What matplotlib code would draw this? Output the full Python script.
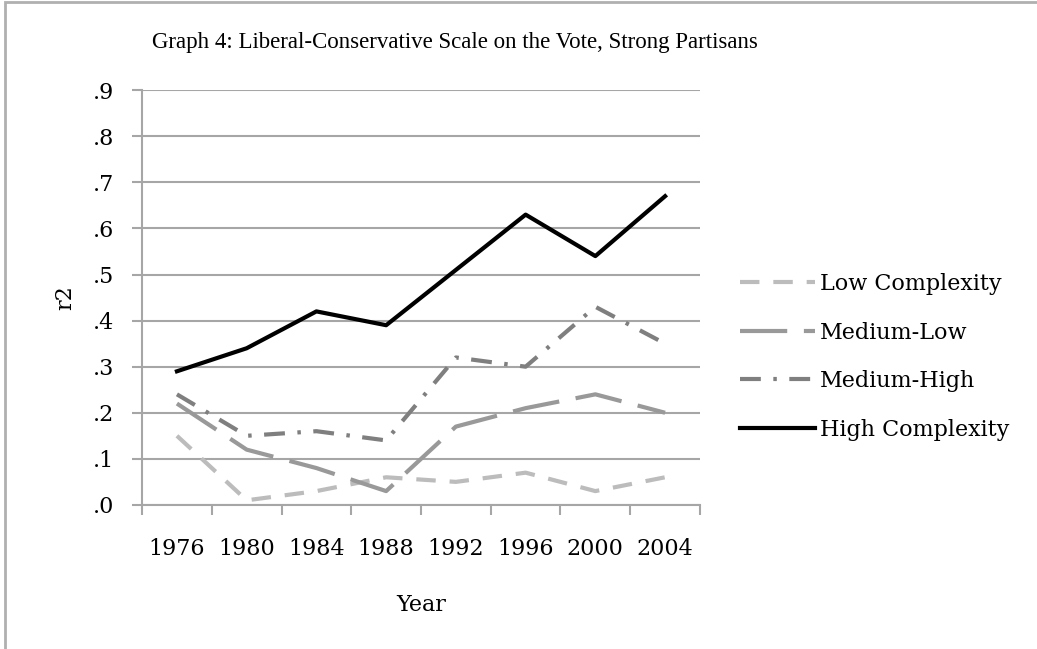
import matplotlib.pyplot as plt
from matplotlib.patches import Rectangle

years = ['1976', '1980', '1984', '1988', '1992', '1996', '2000', '2004']
low_complexity = [.15, .01, .03, .06, .05, .07, .03, .06]
medium_low = [.22, .12, .08, .03, .17, .21, .24, .20]
medium_high = [.24, .15, .16, .14, .32, .30, .43, .35]
high_complexity = [.29, .34, .42, .39, .51, .63, .54, .67]
y_ticks = [0, .1, .2, .3, .4, .5, .6, .7, .8, .9]

plt.rcParams['font.family'] = 'DejaVu Serif'
plt.rcParams['lines.scale_dashes'] = False

fig = plt.figure(figsize=(10.37, 6.49), dpi=100)
ax = fig.add_axes([0.137, 0.222, 0.538, 0.639])

# grey frame round the chart (runs off the right and bottom edges)
fig.patches.append(Rectangle((0.005, -0.1), 1.2, 1.097, transform=fig.transFigure,
                             fill=False, edgecolor='#b0b0b0', linewidth=2))

x = range(len(years))
ax.plot(x, low_complexity, color='#bcbcbc', lw=3, dashes=(14, 10), label='Low Complexity')
ax.plot(x, medium_low, color='#999999', lw=3, dashes=(34, 12), label='Medium-Low')
ax.plot(x, medium_high, color='#7f7f7f', lw=3, dashes=(15, 9, 2.5, 9), label='Medium-High')
ax.plot(x, high_complexity, color='black', lw=3, label='High Complexity')

ax.set_xlim(-0.5, len(years) - 0.5)
ax.set_ylim(0, 0.9)
ax.set_yticks(y_ticks)
ax.set_yticklabels(['.%d' % round(v * 10) for v in y_ticks])
ax.set_xticks(list(x))
ax.set_xticklabels(years)
ax.set_xticks([i - 0.5 for i in range(len(years) + 1)], minor=True)
ax.tick_params(axis='x', which='major', length=0, pad=24, labelsize=16)
ax.tick_params(axis='x', which='minor', length=7, width=1.5, color='#a6a6a6', direction='out')
ax.tick_params(axis='y', length=7, width=1.5, color='#a6a6a6', labelsize=16, pad=13)
ax.grid(axis='y', color='#a6a6a6', linewidth=1.5)
ax.set_axisbelow(True)
for side in ['top', 'right']:
    ax.spines[side].set_visible(False)
for side in ['left', 'bottom']:
    ax.spines[side].set_color('#a6a6a6')
    ax.spines[side].set_linewidth(1.5)

ax.set_xlabel('Year', fontsize=16, labelpad=24)
ax.set_ylabel('r2', fontsize=16, labelpad=12)
fig.text(0.439, 0.934, 'Graph 4: Liberal-Conservative Scale on the Vote, Strong Partisans',
         ha='center', va='center', fontsize=16.5, family='Liberation Serif')

ax.legend(loc='center left', bbox_to_anchor=(1.035, 0.357), frameon=False, fontsize=16,
          handlelength=3.4, handletextpad=0.2, labelspacing=1.2)

fig.savefig('out.png', dpi=100)
